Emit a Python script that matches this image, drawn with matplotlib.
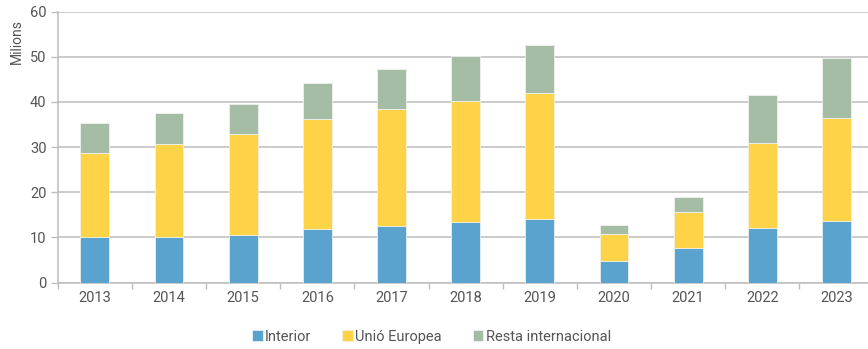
import matplotlib
matplotlib.use("Agg")
import matplotlib.pyplot as plt
import numpy as np

plt.rcParams["font.family"] = ["Roboto", "DejaVu Sans"]

years = ["2013", "2014", "2015", "2016", "2017", "2018", "2019", "2020", "2021", "2022", "2023"]
interior = [10.2, 10.2, 10.6, 11.9, 12.6, 13.5, 14.1, 4.8, 7.6, 12.0, 13.7]
unio_europea = [18.4, 20.4, 22.2, 24.3, 25.9, 26.8, 27.8, 6.05, 8.1, 19.0, 22.8]
resta_internacional = [6.7, 6.9, 6.8, 7.9, 8.8, 9.8, 10.7, 1.85, 3.3, 10.5, 13.2]

c_int = "#5ba3cf"
c_ue = "#fed347"
c_rest = "#a5bca5"
grid_c = "#bdbdbd"
text_c = "#555555"

fig = plt.figure(figsize=(8.68, 3.49), dpi=100)
ax = fig.add_axes([0.0665, 0.19, 0.94, 0.777])

x = np.arange(len(years))
w = 0.39
inter = np.array(interior)
ue = np.array(unio_europea)
rest = np.array(resta_internacional)

ax.bar(x, inter, width=w, color=c_int, edgecolor="#e8eef0", linewidth=0.6, zorder=3, label="Interior")
ax.bar(x, ue, width=w, bottom=inter, color=c_ue, edgecolor="#f5f0e0", linewidth=0.6, zorder=3, label="Unió Europea")
ax.bar(x, rest, width=w, bottom=inter + ue, color=c_rest, edgecolor="#eef2ee", linewidth=0.6, zorder=3,
       label="Resta internacional")

ax.set_xlim(-0.5, len(years) - 0.5)
ax.set_ylim(0, 60)
ax.set_yticks(range(0, 61, 10))
ax.yaxis.grid(True, color=grid_c, linewidth=1.1, zorder=0)
ax.set_axisbelow(True)

ax.set_xticks(x)
ax.set_xticklabels(years)
ax.set_xticks(np.arange(-0.5, len(years), 1), minor=True)
ax.tick_params(axis="x", which="major", length=0, pad=6, labelsize=10.5, labelcolor=text_c)
ax.tick_params(axis="x", which="minor", length=4, width=1, color=grid_c)
ax.tick_params(axis="y", length=5, width=1, color=grid_c, pad=3, labelsize=10.5, labelcolor=text_c)

for side in ["top", "right"]:
    ax.spines[side].set_visible(False)
ax.spines["left"].set_color(grid_c)
ax.spines["bottom"].set_color(grid_c)
ax.spines["left"].set_linewidth(1.1)
ax.spines["bottom"].set_linewidth(1.1)

fig.text(0.02, 0.88, "Milions", rotation=90, ha="center", va="center", fontsize=10, color=text_c)

handles, labels = ax.get_legend_handles_labels()
fig.legend(handles, labels, loc="center", bbox_to_anchor=(0.497, 0.035), ncol=3, frameon=False,
           handlelength=0.75, handleheight=0.75, handletextpad=0.15, columnspacing=2.1,
           fontsize=10.5, labelcolor=text_c)

fig.savefig("out.png", dpi=100)
